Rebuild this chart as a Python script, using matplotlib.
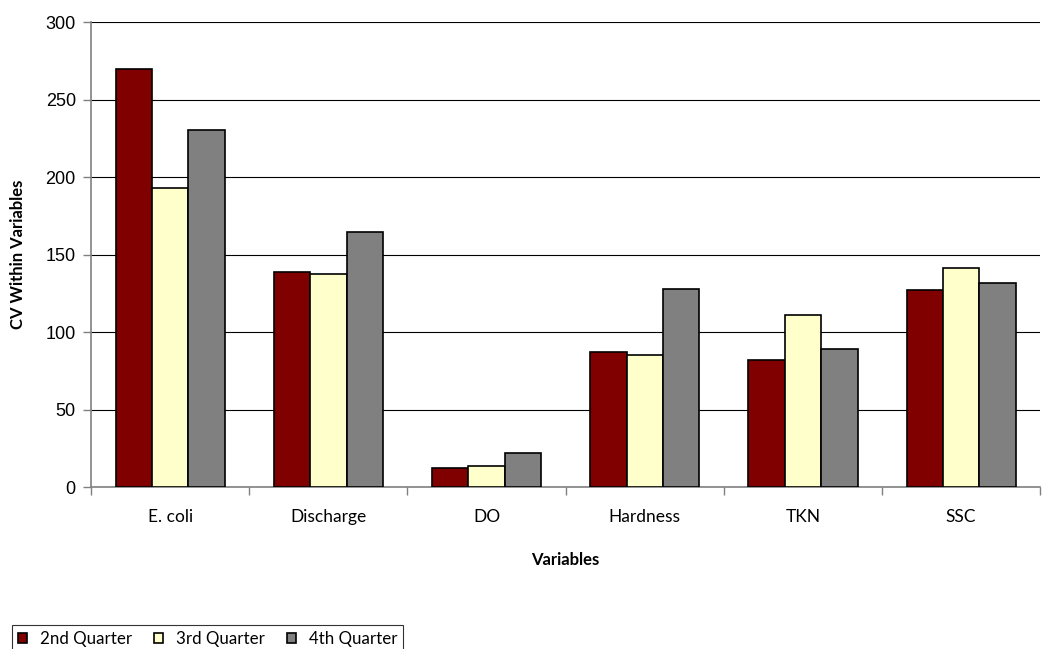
import numpy as np
import matplotlib.pyplot as plt
from matplotlib.font_manager import FontProperties

# values
categories = ["E. coli", "Discharge", "DO", "Hardness", "TKN", "SSC"]
series_names = ["2nd Quarter", "3rd Quarter", "4th Quarter"]
q2 = [270, 139, 12, 87, 82, 127]
q3 = [193, 137.5, 13.5, 85, 111, 141]
q4 = [230.5, 164.5, 22, 128, 89, 131.5]
colors = ["#800000", "#ffffcc", "#808080"]

label_font = ["Lato", "DejaVu Sans"]

fig = plt.figure(figsize=(10.55, 6.49), dpi=100)
ax = fig.add_axes([0.0863, 0.2496, 0.8997, 0.7165])

x = np.arange(len(categories))
w = 0.23
for i, (vals, name, col) in enumerate(zip([q2, q3, q4], series_names, colors)):
    ax.bar(x + (i - 1) * w, vals, width=w, color=col, edgecolor="black",
           linewidth=1.2, label=name, zorder=3)

ax.set_xlim(-0.5, len(categories) - 0.5)
ax.set_ylim(0, 300)
ax.set_yticks(np.arange(0, 301, 50))
ax.yaxis.grid(True, color="black", linewidth=0.8, zorder=0)
ax.set_axisbelow(True)

# category labels centred, ticks at category boundaries
ax.set_xticks(x)
ax.set_xticklabels(categories, fontfamily=label_font, fontsize=12.5)
ax.tick_params(axis="x", length=0, pad=16)
ax.set_xticks(np.arange(-0.5, len(categories)), minor=True)
ax.tick_params(axis="x", which="minor", length=6, color="#808080", width=1)
ax.tick_params(axis="y", length=6, color="#808080", width=1, labelsize=13, pad=5)
for t in ax.get_yticklabels():
    t.set_fontfamily("Liberation Sans")

for side in ["top", "right"]:
    ax.spines[side].set_visible(False)
ax.spines["left"].set_color("#808080")
ax.spines["bottom"].set_color("#808080")
ax.spines["left"].set_linewidth(1.2)
ax.spines["bottom"].set_linewidth(1.2)

ax.set_xlabel("Variables", fontfamily=label_font, fontweight="bold", fontsize=12, labelpad=19)
ax.set_ylabel("CV Within Variables", fontfamily=label_font, fontweight="bold", fontsize=12, labelpad=14)

leg_font = FontProperties(family="Lato", size=12.2)
leg = fig.legend(loc="upper left", bbox_to_anchor=(0.011, 0.037), ncol=3,
                 prop=leg_font, frameon=True, fancybox=False,
                 handlelength=0.55, handleheight=0.55, handletextpad=0.75, columnspacing=1.3,
                 borderpad=0.35, borderaxespad=0)
leg.get_frame().set_edgecolor("black")
leg.get_frame().set_linewidth(0.8)

fig.savefig("out.png", dpi=100)
